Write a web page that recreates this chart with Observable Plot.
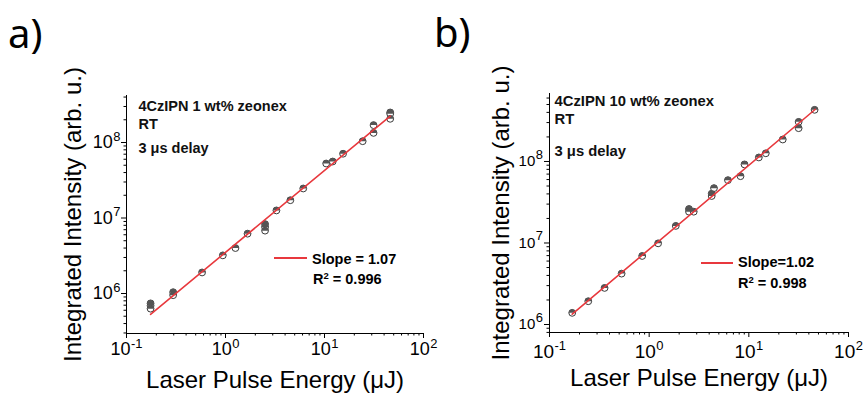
<!DOCTYPE html>
<html><head><meta charset="utf-8">
<script src="https://cdn.jsdelivr.net/npm/d3@7"></script>
<script src="https://cdn.jsdelivr.net/npm/@observablehq/plot@0.6"></script>
<style>
body{margin:0;background:#fff;}
#wrap{position:relative;width:864px;height:403px;overflow:hidden;font-family:"Liberation Sans",Arial,sans-serif;color:#000;}
.panel{position:absolute;top:0;}
.lbl{position:absolute;font-family:"Noto Sans",sans-serif;font-size:40px;line-height:40px;color:#000;}
.leg{position:absolute;font-weight:bold;font-size:14.5px;line-height:14.5px;white-space:nowrap;}
.leg sup{font-size:9.5px;line-height:0;vertical-align:5px;}
.legline{position:absolute;height:1.6px;background:#e8383d;}
</style></head><body><div id="wrap"></div>
<script>
// ---- data ----
const xTickExponents = [-1, 0, 1, 2];
const yTickExponents = [6, 7, 8];
const minorMultipliers = [2, 3, 4, 5, 6, 7, 8, 9];

const xLabel = "Laser Pulse Energy (\u03bcJ)";
const yLabel = "Integrated Intensity (arb. u.)";

// panel a: 4CzIPN 1 wt% zeonex
const aEnergy = [0.175, 0.175, 0.175, 0.296, 0.296, 0.58, 0.94, 1.26, 1.67, 2.51, 2.51, 2.51, 3.27, 4.52, 6.1, 10.4, 12.1, 15.4, 24.3, 31.3, 31.3, 46.1, 46.1, 46.1];
const aIntensity = [7.4e5, 6.9e5, 6.3e5, 1.04e6, 9.5e5, 1.9e6, 3.2e6, 4.0e6, 6.2e6, 8.3e6, 7.6e6, 6.8e6, 1.26e7, 1.72e7, 2.46e7, 5.27e7, 5.6e7, 7.1e7, 1.04e8, 1.7e8, 1.34e8, 2.5e8, 2.4e8, 2.06e8];
const aFitEnergy = [0.175, 46.1];
const aFitIntensity = [5.3e5, 2.23e8];
const aNotes = ["4CzIPN 1 wt% zeonex", "RT", "3 \u03bcs delay"];
const aSlope = "Slope = 1.07";
const aR2 = "0.996";

// panel b: 4CzIPN 10 wt% zeonex
const bEnergy = [0.169, 0.245, 0.357, 0.529, 0.851, 1.23, 1.85, 2.51, 2.51, 2.8, 4.24, 4.24, 4.47, 6.17, 8.25, 9.05, 12.6, 14.8, 21.9, 31.6, 31.6, 45.7];
const bIntensity = [1.39e6, 1.93e6, 2.81e6, 4.21e6, 6.93e6, 9.9e6, 1.62e7, 2.61e7, 2.42e7, 2.42e7, 4.02e7, 3.77e7, 4.71e7, 5.9e7, 6.6e7, 9.2e7, 1.12e8, 1.26e8, 1.86e8, 3.06e8, 2.56e8, 4.3e8];
const bFitEnergy = [0.169, 46.5];
const bFitIntensity = [1.34e6, 4.37e8];
const bNotes = ["4CzIPN 10 wt% zeonex", "RT", "3 \u03bcs delay"];
const bSlope = "Slope=1.02";
const bR2 = "0.998";

// ---- helpers ----
const RED = "#e8383d";
const halfTop = {
  draw(ctx, size) {
    const r = Math.sqrt(size / Math.PI);
    ctx.moveTo(-r, 0);
    ctx.arc(0, 0, r, Math.PI, 2 * Math.PI);
    ctx.closePath();
  }
};
function minorTicks(domain) {
  const out = [];
  const e0 = Math.floor(Math.log10(domain[0])), e1 = Math.ceil(Math.log10(domain[1]));
  for (let e = e0; e <= e1; e++) for (const m of minorMultipliers) {
    const v = m * Math.pow(10, e);
    if (v >= domain[0] && v <= domain[1]) out.push(v);
  }
  return out;
}
function supTicks(svg) {
  d3.select(svg).selectAll("text").each(function () {
    const m = /^10\^(-?\d+)$/.exec(this.textContent);
    if (!m) return;
    const fs = parseFloat(getComputedStyle(this).fontSize) || 18;
    const sel = d3.select(this);
    sel.text(null);
    sel.append("tspan").text("10");
    sel.append("tspan").attr("dx", 0.5).attr("dy", -fs * 0.42).attr("font-size", fs * 0.72).text(m[1]);
  });
}

function panel(cfg) {
  const pts = cfg.energy.map((e, i) => ({energy: e, intensity: cfg.intensity[i]}));
  const fit = cfg.fitE.map((e, i) => ({energy: e, intensity: cfg.fitI[i]}));
  const xMajor = xTickExponents.map(e => Math.pow(10, e));
  const yMajor = yTickExponents.map(e => Math.pow(10, e));
  const fmt = d => "10^" + Math.round(Math.log10(d));
  const noteMarks = cfg.notes.map((t, i) => Plot.text([t], {
    text: d => d, frameAnchor: "top-left", textAnchor: "start", lineAnchor: "bottom",
    dx: cfg.noteDx, dy: cfg.noteDy[i], fontSize: cfg.noteFont, fontWeight: "bold", fill: "#111"
  }));
  const svg = Plot.plot({
    width: 432, height: 403,
    marginLeft: cfg.ml, marginRight: cfg.mr, marginTop: cfg.mt, marginBottom: cfg.mb,
    style: {fontFamily: '"Liberation Sans", Arial, sans-serif', color: "#000", background: "transparent", overflow: "visible"},
    x: {type: "log", domain: [0.1, 100], label: null},
    y: {type: "log", domain: cfg.yDomain, label: null},
    marks: [
      Plot.axisX({ticks: minorTicks([0.1, 100]), tickSize: 2.5, tickFormat: () => "", label: null}),
      Plot.axisX({ticks: xMajor, tickSize: 5, tickPadding: cfg.xPad, fontSize: cfg.xFont, tickFormat: fmt, label: null}),
      Plot.axisY({ticks: minorTicks(cfg.yDomain), tickSize: 2.5, tickFormat: () => "", label: null}),
      Plot.axisY({ticks: yMajor, tickSize: 5, tickPadding: cfg.yPad, fontSize: cfg.yFont, tickFormat: fmt, label: null}),
      Plot.ruleX([0.1], {stroke: "#000", strokeWidth: 1}),
      Plot.ruleY([cfg.yDomain[0]], {stroke: "#000", strokeWidth: 1}),
      Plot.text([yLabel], {text: d => d, frameAnchor: "left", rotate: -90, textAnchor: "middle", lineAnchor: "bottom", dx: cfg.yLabelDx, fontSize: 24, fill: "#000"}),
      Plot.text([xLabel], {text: d => d, frameAnchor: "bottom", textAnchor: "middle", lineAnchor: "bottom", dy: cfg.xLabelDy, fontSize: 24, fill: "#000"}),
      ...noteMarks,
      Plot.dot(pts, {x: "energy", y: "intensity", r: 3.4, fill: "#fff", stroke: "#3a3a3a", strokeWidth: 1}),
      Plot.dot(pts, {x: "energy", y: "intensity", r: 3.4, symbol: halfTop, fill: "#555", stroke: "none"}),
      Plot.line(fit, {x: "energy", y: "intensity", stroke: RED, strokeWidth: 1.6})
    ]
  });
  supTicks(svg);
  svg.classList.add("panel");
  svg.style.left = cfg.left + "px";
  return svg;
}

const wrap = document.getElementById("wrap");
wrap.appendChild(panel({
  left: 0, energy: aEnergy, intensity: aIntensity, fitE: aFitEnergy, fitI: aFitIntensity,
  ml: 126, mr: 9, mt: 95, mb: 70, yDomain: [2.953e5, 4.194e8],
  xFont: 18, xPad: 4, yFont: 18, yPad: 1, yLabelDx: -46, xLabelDy: 54,
  notes: aNotes, noteDx: 12, noteDy: [15, 33, 57], noteFont: 14.5
}));
wrap.appendChild(panel({
  left: 432, energy: bEnergy, intensity: bIntensity, fitE: bFitEnergy, fitI: bFitIntensity,
  ml: 117, mr: 16, mt: 93, mb: 71, yDomain: [7.98e5, 6.82e8],
  xFont: 19, xPad: 6.5, yFont: 15, yPad: 1.5, yLabelDx: -41, xLabelDy: 53,
  notes: bNotes, noteDx: 5, noteDy: [12, 30, 62], noteFont: 14.8
}));

function addDiv(cls, left, top, html, extra) {
  const d = document.createElement("div");
  d.className = cls;
  d.style.left = left + "px";
  d.style.top = top + "px";
  if (html != null) d.innerHTML = html;
  if (extra) Object.assign(d.style, extra);
  wrap.appendChild(d);
}
addDiv("lbl", 8, 12.5, "a)");
addDiv("lbl", 434, 11.5, "b)");
// legends
addDiv("legline", 274, 257.2, null, {width: "33px"});
addDiv("leg", 312, 251.7, aSlope);
addDiv("leg", 313, 271.7, "R<sup>2</sup> = " + aR2);
addDiv("legline", 701, 262.2, null, {width: "32px"});
addDiv("leg", 738, 254.7, bSlope);
addDiv("leg", 738, 275.7, "R<sup>2</sup> = " + bR2);
</script></body></html>
